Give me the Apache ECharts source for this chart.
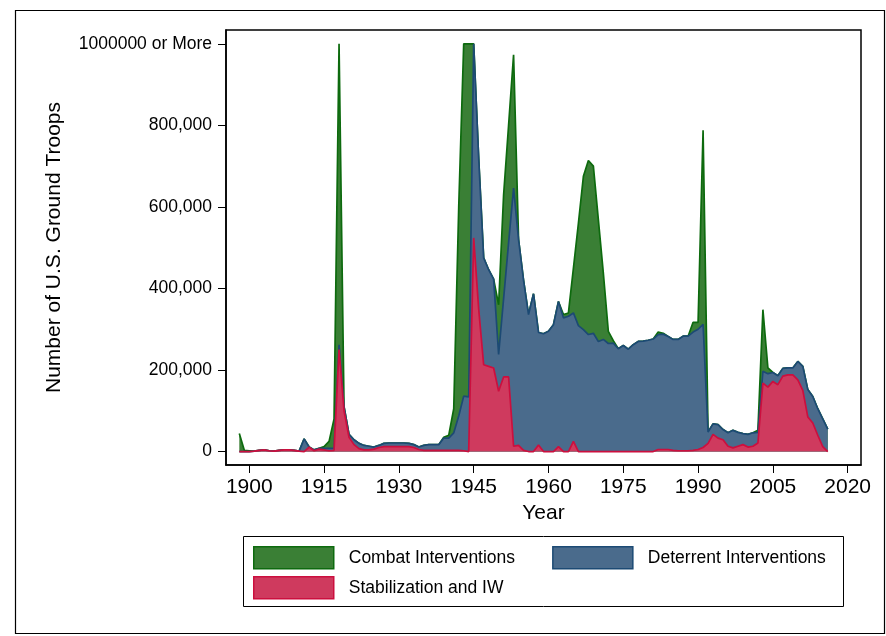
<!DOCTYPE html>
<html>
<head>
<meta charset="utf-8">
<script src="https://cdn.jsdelivr.net/npm/echarts@6/dist/echarts.min.js"></script>
<style>
  html, body { margin: 0; padding: 0; background: #fff; }
  #chart { width: 886px; height: 636px; }
</style>
</head>
<body>
<div id="chart"></div>
<script>
// Years covered by the series
const years = [
  1898, 1899, 1900, 1901, 1902, 1903, 1904, 1905, 1906, 1907,
  1908, 1909, 1910, 1911, 1912, 1913, 1914, 1915, 1916, 1917,
  1918, 1919, 1920, 1921, 1922, 1923, 1924, 1925, 1926, 1927,
  1928, 1929, 1930, 1931, 1932, 1933, 1934, 1935, 1936, 1937,
  1938, 1939, 1940, 1941, 1942, 1943, 1944, 1945, 1946, 1947,
  1948, 1949, 1950, 1951, 1952, 1953, 1954, 1955, 1956, 1957,
  1958, 1959, 1960, 1961, 1962, 1963, 1964, 1965, 1966, 1967,
  1968, 1969, 1970, 1971, 1972, 1973, 1974, 1975, 1976, 1977,
  1978, 1979, 1980, 1981, 1982, 1983, 1984, 1985, 1986, 1987,
  1988, 1989, 1990, 1991, 1992, 1993, 1994, 1995, 1996, 1997,
  1998, 1999, 2000, 2001, 2002, 2003, 2004, 2005, 2006, 2007,
  2008, 2009, 2010, 2011, 2012, 2013, 2014, 2015, 2016
];

// Troops (thousands) per intervention type; stacked bottom to top
const stabilization = [
  0, 0, 0, 1, 3, 4, 2, 1, 3, 4,
  4, 3, 1, 0, 11, 2, 6, 4, 2, 3,
  250, 100, 35, 17, 7, 4, 4, 6, 10, 12,
  12, 12, 12, 12, 12, 10, 5, 3, 3, 3,
  3, 3, 3, 3, 3, 2, 0, 524, 350, 213,
  209, 205, 148, 183, 183, 13, 15, 3, 0, 0,
  16, 0, 0, 0, 12, 0, 0, 25, 0, 0,
  0, 0, 0, 0, 0, 0, 0, 0, 0, 0,
  0, 0, 0, 0, 5, 5, 5, 3, 2, 2,
  2, 3, 5, 10, 20, 42, 33, 29, 13, 9,
  13, 17, 11, 13, 21, 168, 158, 172, 164, 185,
  188, 188, 176, 150, 85, 70, 40, 12, 0
];

const deterrent = [
  0, 0, 0, 0, 0, 0, 0, 0, 0, 0,
  0, 0, 0, 31, 0, 2, 2, 4, 6, 5,
  12, 10, 7, 12, 13, 11, 9, 5, 5, 8,
  9, 9, 9, 9, 8, 7, 6, 12, 14, 14,
  14, 30, 30, 43, 84, 134, 134, 476, 370, 262,
  237, 218, 90, 192, 329, 633, 505, 417, 336, 387,
  276, 289, 295, 311, 356, 328, 332, 315, 309, 299,
  287, 290, 270, 275, 265, 266, 252, 260, 251, 262,
  270, 271, 273, 276, 282, 283, 277, 272, 273, 281,
  281, 290, 295, 302, 28, 26, 33, 25, 33, 43,
  34, 27, 31, 33, 26, 29, 33, 22, 22, 19,
  17, 17, 45, 59, 67, 65, 65, 68, 55
];

const combat = [
  44, 3, 2, 0, 0, 0, 0, 0, 0, 0,
  0, 0, 0, 0, 0, 0, 0, 4, 17, 72,
  738, 0, 0, 0, 0, 0, 0, 0, 0, 0,
  0, 0, 0, 0, 0, 0, 0, 0, 0, 0,
  0, 2, 7, 59, 513, 864, 866, 0, 0, 0,
  0, 0, 122, 255, 288, 327, 0, 0, 0, 0,
  0, 0, 0, 0, 0, 8, 8, 110, 251, 376,
  427, 410, 299, 163, 30, 6, 0, 0, 0, 0,
  0, 0, 0, 0, 6, 2, 0, 0, 0, 0,
  0, 24, 17, 476, 0, 0, 0, 0, 0, 0,
  0, 0, 0, 0, 5, 151, 14, 0, 0, 0,
  0, 0, 0, 0, 0, 0, 0, 0, 0
];

const xTicks = [1900, 1915, 1930, 1945, 1960, 1975, 1990, 2005, 2020];
const yTicks = [0, 200, 400, 600, 800, 1000];

const FONT = '"Liberation Sans", Arial, Helvetica, sans-serif';

const palette = {
  combat:    { fill: '#3a7f35', line: '#0d6a0e' },
  deterrent: { fill: '#4a6b8c', line: '#1c4a74' },
  stab:      { fill: '#cf3a5e', line: '#cc0f3e' }
};

// Each layer is drawn as the running total of the layers beneath it,
// back to front: combat (top of stack), deterrent, stabilization.
const layerStab = years.map((y, i) => [y, stabilization[i]]);
const layerDeter = years.map((y, i) => [y, stabilization[i] + deterrent[i]]);
const layerCombat = years.map((y, i) => [y, stabilization[i] + deterrent[i] + combat[i]]);

function yLabel(v) {
  if (v >= 1000) return '1000000 or More';
  if (v === 0) return '0';
  return (v * 1000).toLocaleString('en-US');
}

function areaSeries(name, data, colors, z) {
  return {
    name, type: 'line', data, symbol: 'none', showSymbol: false, z,
    lineStyle: { color: colors.line, width: 1.7 },
    itemStyle: { color: colors.fill },
    areaStyle: { color: colors.fill, opacity: 1, origin: 0 }
  };
}

const chart = echarts.init(document.getElementById('chart'), null, { renderer: 'canvas' });

chart.setOption({
  animation: false,
  backgroundColor: '#fff',
  textStyle: { fontFamily: FONT },
  grid: {
    left: 226, right: 25, top: 30, bottom: 171,
    show: true, borderColor: '#000', borderWidth: 1.5,
    containLabel: false
  },
  xAxis: {
    type: 'value',
    min: 1895.33,
    max: 2022.67,
    name: 'Year',
    nameLocation: 'middle',
    nameGap: 36,
    nameTextStyle: { fontSize: 21, color: '#000', fontFamily: FONT },
    axisLine: { show: true, onZero: false, lineStyle: { color: '#000', width: 1.5 } },
    axisTick: { show: true, length: 8, customValues: xTicks, lineStyle: { color: '#000', width: 1 } },
    axisLabel: {
      customValues: xTicks, margin: 12, fontSize: 21, color: '#000', fontFamily: FONT,
      formatter: v => String(v)
    },
    splitLine: { show: false }
  },
  yAxis: {
    type: 'value',
    min: -33,
    max: 1034,
    name: 'Number of U.S. Ground Troops',
    nameLocation: 'middle',
    nameRotate: 90,
    nameGap: 161,
    nameTextStyle: { fontSize: 21, color: '#000', fontFamily: FONT },
    axisLine: { show: true, onZero: false, lineStyle: { color: '#000', width: 1.5 } },
    axisTick: { show: true, length: 8, customValues: yTicks, lineStyle: { color: '#000', width: 1 } },
    axisLabel: {
      customValues: yTicks, margin: 14, fontSize: 17.5, color: '#000', fontFamily: FONT,
      formatter: yLabel
    },
    splitLine: { show: false }
  },
  legend: [
    {
      left: 248, top: 541, orient: 'horizontal',
      itemWidth: 80, itemHeight: 22, itemGap: 37,
      icon: 'rect',
      textStyle: { fontSize: 17.5, color: '#000', fontFamily: FONT, padding: [0, 0, 0, 10] },
      selectedMode: false,
      data: [
        { name: 'Combat Interventions', itemStyle: { color: palette.combat.fill, borderColor: palette.combat.line, borderWidth: 1.5 } },
        { name: 'Deterrent Interventions', itemStyle: { color: palette.deterrent.fill, borderColor: palette.deterrent.line, borderWidth: 1.5 } }
      ]
    },
    {
      left: 248, top: 571, orient: 'horizontal',
      itemWidth: 80, itemHeight: 22,
      icon: 'rect',
      textStyle: { fontSize: 17.5, color: '#000', fontFamily: FONT, padding: [0, 0, 0, 10] },
      selectedMode: false,
      data: [
        { name: 'Stabilization and IW', itemStyle: { color: palette.stab.fill, borderColor: palette.stab.line, borderWidth: 1.5 } }
      ]
    }
  ],
  graphic: [
    // outer frame of the figure
    { type: 'rect', shape: { x: 15.5, y: 10.5, width: 869, height: 623 },
      style: { fill: 'none', stroke: '#000', lineWidth: 1.2 }, silent: true, z: 0 },
    // legend box
    { type: 'rect', shape: { x: 243.5, y: 536.5, width: 600, height: 70 },
      style: { fill: 'none', stroke: '#000', lineWidth: 1 }, silent: true, z: 0 }
  ],
  series: [
    areaSeries('Combat Interventions', layerCombat, palette.combat, 2),
    areaSeries('Deterrent Interventions', layerDeter, palette.deterrent, 3),
    areaSeries('Stabilization and IW', layerStab, palette.stab, 4)
  ]
});
</script>
</body>
</html>
